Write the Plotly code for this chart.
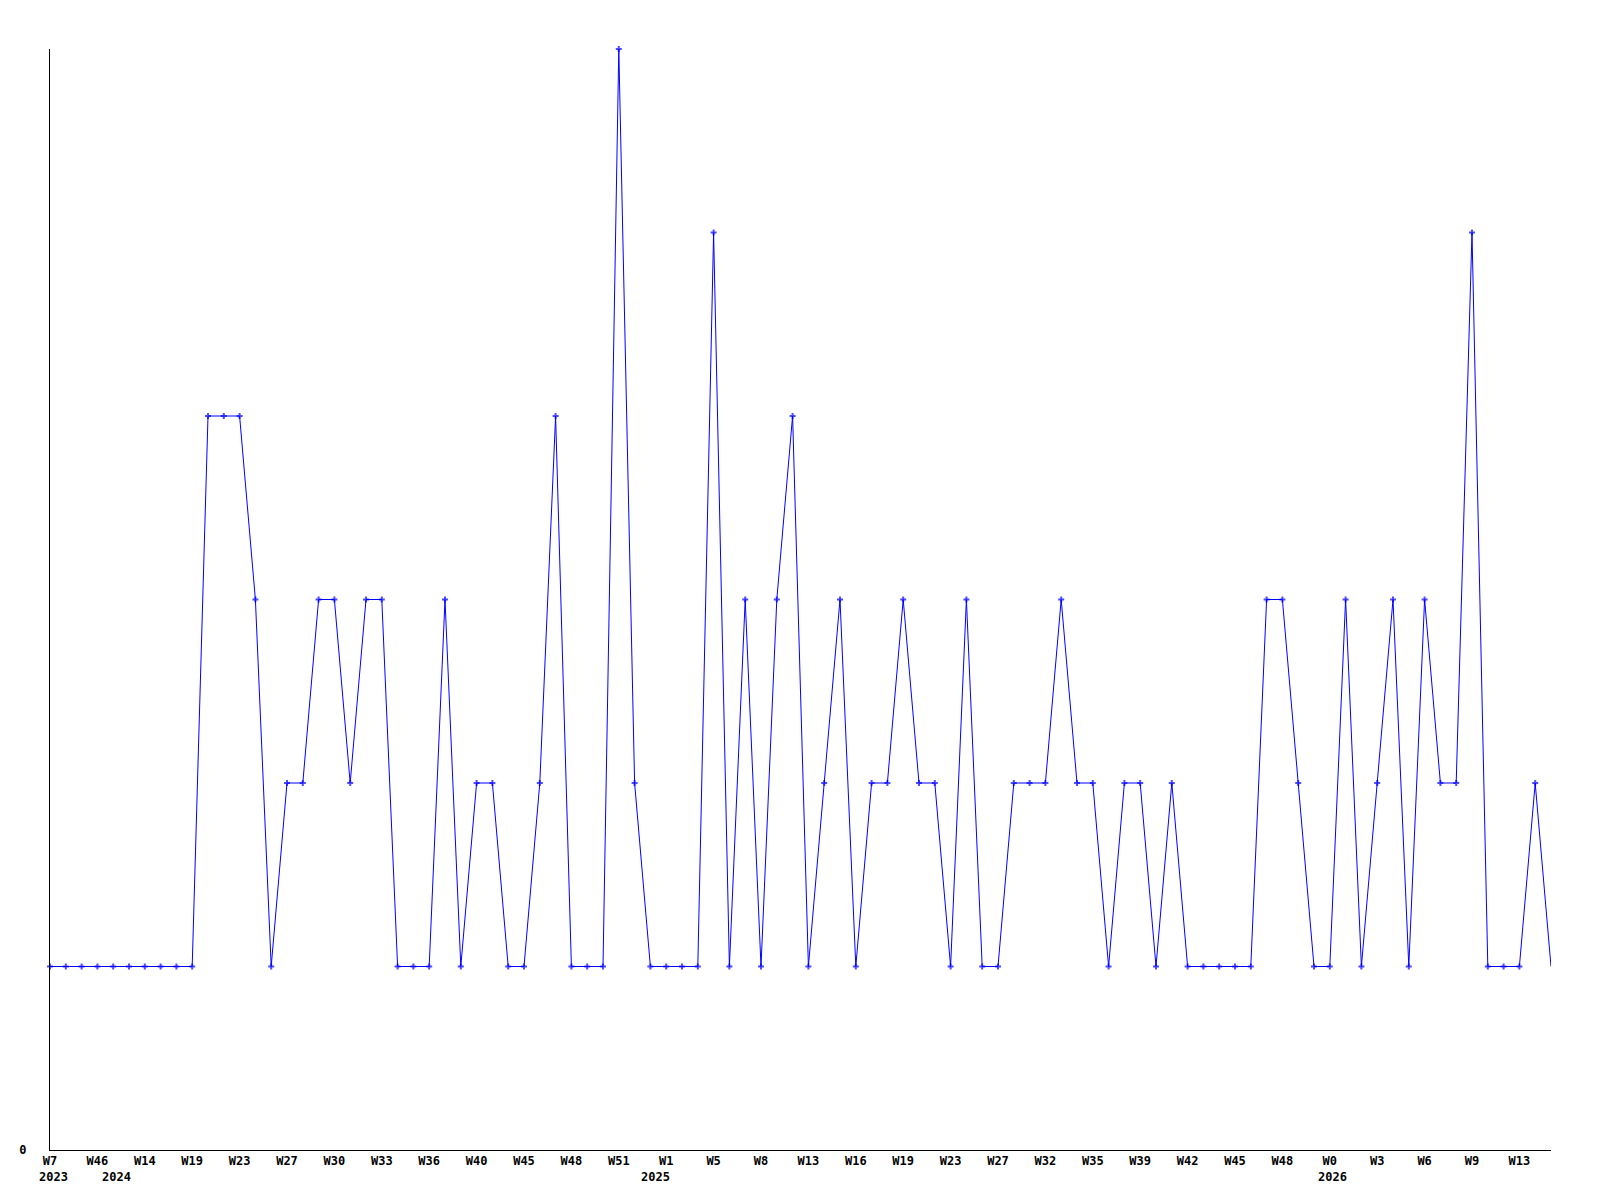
import plotly.graph_objects as go

values = [1, 1, 1, 1, 1, 1, 1, 1, 1, 1,
          4, 4, 4, 3, 1, 2, 2, 3, 3, 2,
          3, 3, 1, 1, 1, 3, 1, 2, 2, 1,
          1, 2, 4, 1, 1, 1, 6, 2, 1, 1,
          1, 1, 5, 1, 3, 1, 3, 4, 1, 2,
          3, 1, 2, 2, 3, 2, 2, 1, 3, 1,
          1, 2, 2, 2, 3, 2, 2, 1, 2, 2,
          1, 2, 1, 1, 1, 1, 1, 3, 3, 2,
          1, 1, 3, 1, 2, 3, 1, 3, 2, 2,
          5, 1, 1, 1, 2, 1]

tick_labels = ["W7", "W46", "W14", "W19", "W23", "W27", "W30", "W33", "W36", "W40",
               "W45", "W48", "W51", "W1", "W5", "W8", "W13", "W16", "W19", "W23",
               "W27", "W32", "W35", "W39", "W42", "W45", "W48", "W0", "W3", "W6",
               "W9", "W13"]
tick_step = 3

year_labels = ["2023", "2024", "2025", "2026"]
year_positions = [0.2, 4.2, 38.3, 81.2]

x = list(range(len(values)))
marker_sizes = [5] * (len(values) - 1) + [0]

fig = go.Figure()
fig.add_trace(go.Scatter(
    x=x, y=values, mode="lines+markers",
    line=dict(color="#0000ff", width=1),
    marker=dict(symbol="cross", size=marker_sizes, color="#0000ff",
                line=dict(width=0)),
    cliponaxis=False, showlegend=False,
))

font = dict(family="DejaVu Sans Mono", size=12, color="black", weight="bold")

for lab, pos in zip(year_labels, year_positions):
    fig.add_annotation(x=pos, y=0, xref="x", yref="y", text=lab,
                       showarrow=False, yshift=-27, font=font,
                       xanchor="center", yanchor="middle")

fig.update_layout(
    width=1600, height=1200,
    margin=dict(l=42, r=57, t=41, b=58),
    plot_bgcolor="white", paper_bgcolor="white",
    xaxis=dict(range=[0, len(values) - 1], showgrid=False, zeroline=False,
               showline=True, linecolor="black", linewidth=1,
               tickmode="array",
               tickvals=[i * tick_step for i in range(len(tick_labels))],
               ticktext=tick_labels, ticks="", tickfont=font,
               ticklabelstandoff=0),
    yaxis=dict(range=[0, 6], showgrid=False, zeroline=False,
               showline=True, linecolor="black", linewidth=1,
               tickmode="array", tickvals=[0], ticktext=["0"], ticks="",
               tickfont=font, ticklabelstandoff=20),
)

fig.write_html("out.html")
